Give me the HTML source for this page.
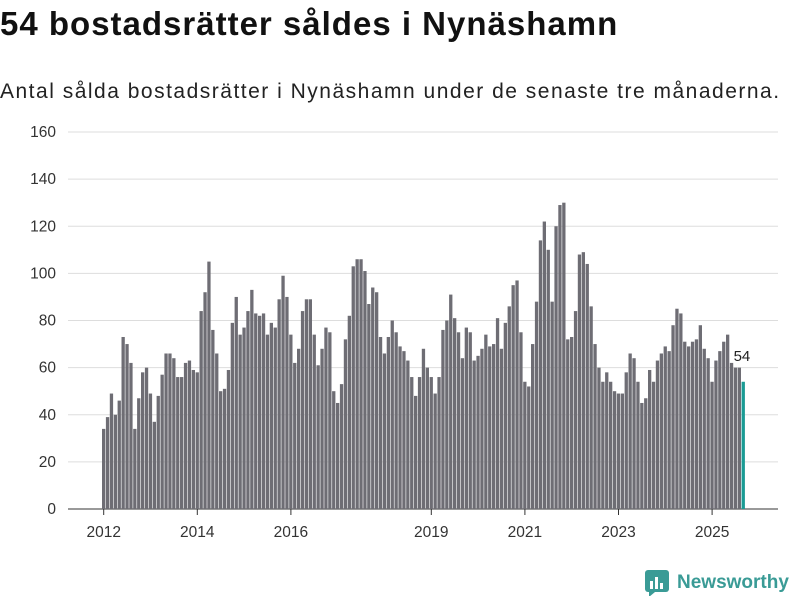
<!DOCTYPE html>
<html><head><meta charset="utf-8"><style>
body{margin:0;width:800px;height:600px;background:#fff;font-family:"Liberation Sans","DejaVu Sans",sans-serif;overflow:hidden;position:relative}
h1{position:absolute;left:0;top:5px;margin:0;font-size:33px;font-weight:bold;color:#111;letter-spacing:1px;white-space:nowrap}
.sub{position:absolute;left:0;top:80px;font-size:21px;color:#222;letter-spacing:1.5px;white-space:nowrap}
.logo{position:absolute;left:645px;top:570px;display:flex;align-items:center;font-size:19px;font-weight:bold;color:#3a9b96}
</style></head><body>
<h1>54 bostadsrätter såldes i Nynäshamn</h1>
<div class="sub">Antal sålda bostadsrätter i Nynäshamn under de senaste tre månaderna.</div>
<svg id="chart" width="800" height="600" style="position:absolute;left:0;top:0"></svg>
<div class="logo"><svg width="24" height="26" style="margin-right:8px"><rect x="0" y="0" width="24" height="22" rx="3" fill="#3a9b96"/><polygon points="4,22 10,22 4,27" fill="#3a9b96"/><rect x="5" y="11" width="3" height="8" fill="#fff"/><rect x="10" y="7" width="3" height="12" fill="#fff"/><rect x="15" y="13" width="3" height="6" fill="#fff"/></svg>Newsworthy</div>
<script>
const values=[34,39,49,40,46,73,70,62,34,47,58,60,
49,37,48,57,66,66,64,56,56,62,63,59,
58,84,92,105,76,66,50,51,59,79,90,74,
77,84,93,83,82,83,74,79,77,89,99,90,
74,62,68,84,89,89,74,61,68,77,75,50,
45,53,72,82,103,106,106,101,87,94,92,73,
66,73,80,75,69,67,63,56,48,56,68,60,
56,49,56,76,80,91,81,75,64,77,75,63,
65,68,74,69,70,81,68,79,86,95,97,75,
54,52,70,88,114,122,110,88,120,129,130,72,
73,84,108,109,104,86,70,60,54,58,54,50,
49,49,58,66,64,54,45,47,59,54,63,66,
69,67,78,85,83,71,69,71,72,78,68,64,
54,63,67,71,74,62,60,60,54];
const yTicks=[0,20,40,60,80,100,120,140,160];
const xTickYears=[2012,2014,2016,2019,2021,2023,2025];
const startYear=2012;
const svg=document.getElementById('chart');
const NS='http://www.w3.org/2000/svg';
const y=v=>509-v*(377/160);
const x=m=>102+m*3.9;
function mk(t,a){const e=document.createElementNS(NS,t);for(const k in a)e.setAttribute(k,a[k]);svg.appendChild(e);return e;}
yTicks.forEach(t=>{
 const l=mk('line',{x1:68,x2:778,y1:y(t),y2:y(t),stroke:t===0?'#333':'#ddd','stroke-width':1});
 
 
 const tx=mk('text',{x:56,y:y(t)+5,'text-anchor':'end','font-size':15.5,fill:'#333'});
 tx.textContent=t;
 
 
});
xTickYears.forEach(yr=>{
 const xx=x((yr-startYear)*12)+1.7;
 const l=mk('line',{x1:xx,x2:xx,y1:509,y2:515,stroke:'#333'});
 
 
 const tx=mk('text',{x:xx,y:537,'text-anchor':'middle','font-size':15.5,fill:'#333'});
 tx.textContent=yr;
 
 
});
values.forEach((v,i)=>{
 const last=i===values.length-1;
 const r=mk('rect',{x:x(i),y:y(v),width:3.3,height:509-y(v),fill:last?'#1a9b94':'#6e6d74'});
 
 
});
const li=values.length-1;
const lab=mk('text',{x:x(li)-8,y:y(values[li])-21,'font-size':15,fill:'#222',stroke:'#fff','stroke-width':3,'paint-order':'stroke'});
lab.textContent=values[li];


</script>
</body></html>
